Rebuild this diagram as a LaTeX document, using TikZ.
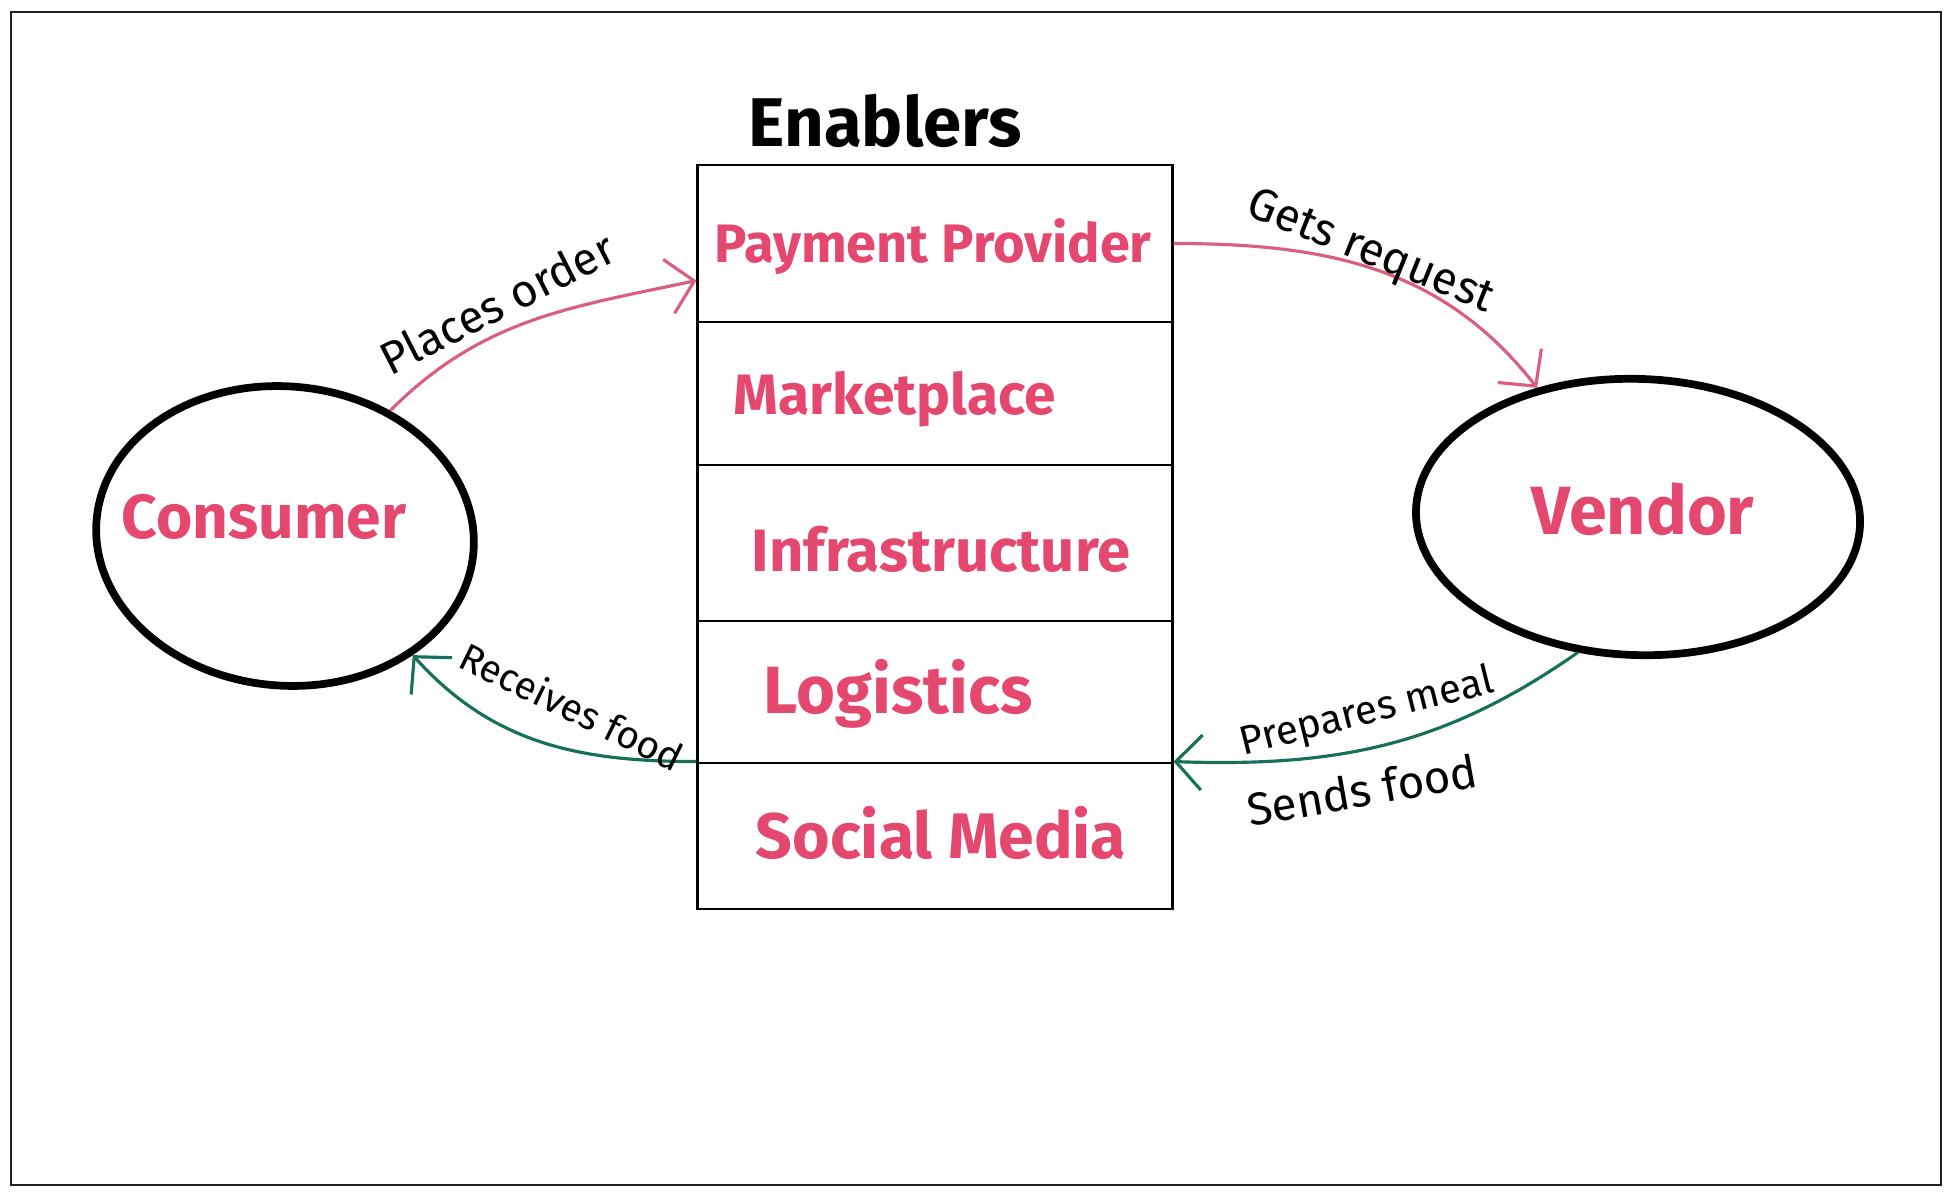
\documentclass[tikz,border=0pt]{standalone}
\usepackage{fontspec}
\setmainfont{Fira Sans}
\usetikzlibrary{arrows.meta,positioning,calc,shapes.geometric}
\definecolor{Rose}{HTML}{E5486E}
\definecolor{RoseLine}{HTML}{D9607D}
\definecolor{Teal}{HTML}{17705A}
\definecolor{Frame}{HTML}{222222}

\begin{document}
\begin{tikzpicture}[x=0.01cm,y=-0.01cm,actor/.style={draw=black,line width=2.2pt,ellipse,inner sep=0pt},cell/.style={draw=black,line width=0.8pt,minimum width=4.74cm,inner sep=0pt},pinklabel/.style={text=Rose,font=\fontsize{17}{20}\selectfont\bfseries},note/.style={font=\fontsize{13}{15}\selectfont,text=black},flowpink/.style={-{Straight Barb[length=2.6mm,width=5.5mm]},line width=0.9pt,draw=RoseLine},flowgreen/.style={-{Straight Barb[length=2.6mm,width=5.5mm]},line width=0.9pt,draw=Teal}]
\useasboundingbox (0,0) rectangle (1955,1197);
\draw[Frame,line width=0.7pt] (11,12) rectangle (1941,1185);
\node[font=\fontsize{19.6}{23}\selectfont\bfseries] (title) at (885,121){Enablers};
\node[cell,minimum height=1.57cm] (pay) at (935,243.5){};
\node[cell,minimum height=1.43cm] (market) at (935,393.5){};
\node[cell,minimum height=1.56cm] (infra) at (935,543){};
\node[cell,minimum height=1.42cm] (logi) at (935,692){};
\node[cell,minimum height=1.46cm] (social) at (935,836){};
\node[pinklabel,font=\fontsize{15.4}{18}\selectfont\bfseries] (paytxt) at (933,247){Payment Provider};
\node[pinklabel,font=\fontsize{16.2}{19}\selectfont\bfseries] (markettxt) at (895,399){Marketplace};
\node[pinklabel] (infratxt) at (941,549){Infrastructure};
\node[pinklabel,font=\fontsize{19}{22}\selectfont\bfseries] (logitxt) at (898,694){Logistics};
\node[pinklabel,font=\fontsize{18.3}{21}\selectfont\bfseries] (socialtxt) at (941,833){Social Media};
\node[actor,rotate=-5,minimum width=3.78cm,minimum height=2.99cm] (consumer) at (285,536){};
\node[actor,rotate=-2,minimum width=4.44cm,minimum height=2.76cm] (vendor) at (1638,517){};
\node[pinklabel,font=\fontsize{17.7}{21}\selectfont\bfseries] (consumertxt) at (264,517){Consumer};
\node[pinklabel,font=\fontsize{19.4}{23}\selectfont\bfseries] (vendortxt) at (1643,509){Vendor};
\draw[flowpink] (consumer.55) to[out=45,in=192] ($(pay.west)+(0,37)$);
\draw[flowpink] (pay.east) to[out=0,in=128] (vendor.130);
\draw[flowgreen] (vendor.248) to[out=215,in=-2] (social.north east);
\draw[flowgreen] (social.north west) to[out=180,in=-48] (consumer.-38);
\node[note,rotate=27] (ordertxt) at (497,303){Places order};
\node[note,rotate=-22] (requesttxt) at (1370,253){Gets request};
\node[note,font=\fontsize{11}{13}\selectfont,rotate=-26] (receivetxt) at (572,706){Receives food};
\node[note,font=\fontsize{11.5}{13}\selectfont,rotate=14] (preparetxt) at (1367,713){Prepares meal};
\node[note,rotate=10] (sendtxt) at (1362,790){Sends food};
\end{tikzpicture}
\end{document}
